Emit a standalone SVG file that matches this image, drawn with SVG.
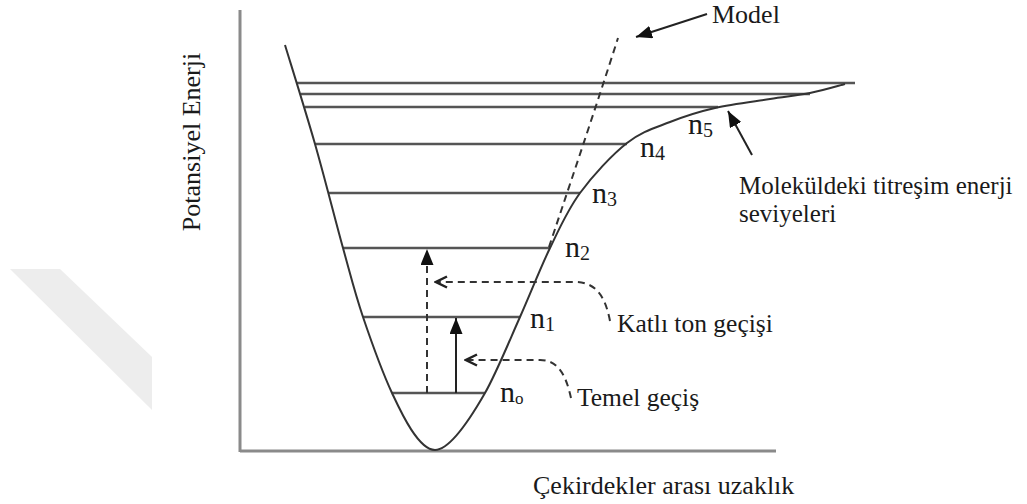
<svg xmlns="http://www.w3.org/2000/svg" width="1027" height="504" viewBox="0 0 1027 504" font-family="'Liberation Serif', 'Times New Roman', serif">
<style>
.axis{stroke:#8a8a8a;stroke-width:3;fill:none}
.lvl{stroke:#555;stroke-width:2.4;fill:none}
.curve{stroke:#333;stroke-width:2;fill:none}
.dash{stroke:#333;stroke-width:2;fill:none;stroke-dasharray:7 5}
.solid{stroke:#222;stroke-width:2;fill:none}
.t{font-family:'Liberation Serif','Times New Roman',serif;fill:#1a1a1a}
.lab{font-size:26px}
.n{font-size:30px}
.sub{font-size:20px}
</style>
<defs>
<marker id="tri" viewBox="0 0 16 13" refX="16" refY="6.5" markerWidth="16" markerHeight="13" orient="auto" markerUnits="userSpaceOnUse">
<path d="M0,0 L16,6.5 L0,13 z" fill="#111"/>
</marker>
<marker id="chev" viewBox="0 0 15 14" refX="13" refY="7" markerWidth="15" markerHeight="14" orient="auto" markerUnits="userSpaceOnUse">
<path d="M2,1.5 L13,7 L2,12.5" fill="none" stroke="#222" stroke-width="2.5"/>
</marker>
</defs>
<rect width="1027" height="504" fill="#fff"/>
<g id="watermark">
<polygon points="10,269 60,269 152,357 152,410" fill="#ededed"/>
</g>
<g id="axes">
<line class="axis" x1="240" y1="10" x2="240" y2="452"/>
<line class="axis" x1="240" y1="451" x2="776" y2="451"/>
<text class="t lab" transform="translate(200,142) rotate(-90)" text-anchor="middle">Potansiyel Enerji</text>
<text class="t lab" x="533" y="494">Çekirdekler arası uzaklık</text>
</g>
<g id="levels">
<line class="lvl" x1="297" y1="83" x2="855" y2="83"/>
<line class="lvl" x1="301" y1="94" x2="810" y2="94"/>
<line class="lvl" x1="305" y1="107" x2="718" y2="107"/>
<line class="lvl" x1="315" y1="144" x2="627" y2="144"/>
<line class="lvl" x1="328" y1="193" x2="580" y2="193"/>
<line class="lvl" x1="343" y1="248" x2="550" y2="248"/>
<line class="lvl" x1="363" y1="317" x2="520" y2="317"/>
<line class="lvl" x1="392" y1="393" x2="485" y2="393"/>
</g>
<g id="potential-curve">
<path class="curve" d="M285,45 C290,61.5 305.3,110.2 315,144 C324.7,177.8 335,219.2 343,248 C351,276.8 354.8,292.8 363,317 C371.2,341.2 383.3,374.2 392,393 C400,410 418,450 435,450 C452,450 476.4,408 485,393 C495.8,374.2 509.2,341.2 520,317 C530.8,292.8 540,268.7 550,248 C560,227.3 567.2,210.5 580,193 C592.8,175.5 612,154.8 627,143 C642,131.2 655.3,127.8 670,122 C684.7,116.2 698.3,111.8 715,108 C731.7,104.2 754.2,101.5 770,99 C785.8,96.5 797.5,95.5 810,93 C822.5,90.5 839.2,85.5 845,84"/>
</g>
<g id="model-curve">
<path class="dash" d="M549,247 C563,205 595,110 618,38"/>
</g>
<g id="n-labels">
<text class="t n" x="500" y="402">n<tspan font-size="17" dy="2">o</tspan></text>
<text class="t n" x="530" y="328">n<tspan class="sub" dy="3">1</tspan></text>
<text class="t n" x="565" y="257">n<tspan class="sub" dy="3">2</tspan></text>
<text class="t n" x="592" y="203">n<tspan class="sub" dy="3">3</tspan></text>
<text class="t n" x="640" y="157">n<tspan class="sub" dy="3">4</tspan></text>
<text class="t n" x="688" y="134">n<tspan class="sub" dy="3">5</tspan></text>
</g>
<g id="label-model">
<text class="t lab" x="712" y="23">Model</text>
</g>
<g id="label-levels">
<text class="t" font-size="25" x="739" y="194">Moleküldeki titreşim enerji</text>
<text class="t" font-size="25" x="739" y="222">seviyeleri</text>
</g>
<g id="label-katli">
<text class="t" font-size="25.5" x="617" y="332">Katlı ton geçişi</text>
</g>
<g id="label-temel">
<text class="t" font-size="25.5" x="577" y="406">Temel geçiş</text>
</g>
<g id="connectors">
<line class="solid" x1="707" y1="14" x2="636" y2="37" marker-end="url(#tri)"/>
<line class="solid" x1="752" y1="155" x2="728" y2="111" marker-end="url(#tri)"/>
<line class="solid" x1="456" y1="393" x2="456" y2="318" marker-end="url(#tri)"/>
<line class="dash" x1="427" y1="393" x2="427" y2="249" marker-end="url(#tri)"/>
<path class="dash" d="M610,321 C605,295 595,282 575,282 L436,282" marker-end="url(#chev)"/>
<path class="dash" d="M571,398 C566,375 558,360 540,360 L466,360" marker-end="url(#chev)"/>
</g>
</svg>
